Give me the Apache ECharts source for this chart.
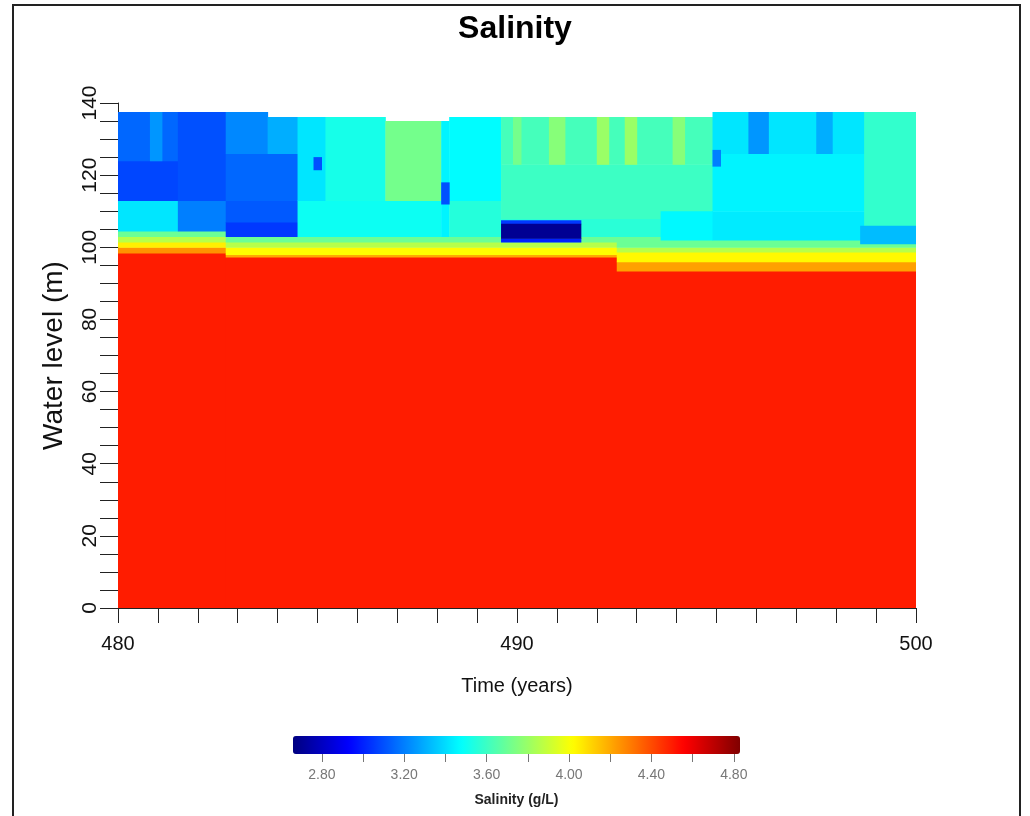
<!DOCTYPE html>
<html>
<head>
<meta charset="utf-8">
<title>Salinity</title>
<script src="https://cdn.jsdelivr.net/npm/echarts@6/dist/echarts.min.js"></script>
<style>
  html, body { margin: 0; padding: 0; background: #fff; }
  #salinity-chart { width: 1030px; height: 816px; }
</style>
</head>
<body>
<div id="salinity-chart"></div>
<script>
// cells: [time from, time to, level from (m), level to (m), salinity (g/L)]
var mixedLayer = [
    [480, 482.7, 0, 98.4, 4.50],
    [482.7, 492.5, 0, 97.3, 4.50],
    [492.5, 500, 0, 93.4, 4.50]
];

var halocline = [
    [480, 482.7, 98.4, 100, 4.25],
    [480, 482.7, 100, 101.5, 4.05],
    [480, 482.7, 101.5, 103, 3.86],
    [480, 482.7, 103, 104.5, 3.70],
    [482.7, 492.5, 97.3, 98, 4.20],
    [482.7, 492.5, 98, 100, 4.02],
    [482.7, 492.5, 100, 101.5, 3.86],
    [482.7, 492.5, 101.5, 103, 3.70],
    [492.5, 500, 93.4, 96, 4.22],
    [492.5, 500, 96, 98.7, 4.03],
    [492.5, 500, 98.7, 100, 3.86],
    [492.5, 500, 100, 103, 3.70]
];

var surfaceLayer = [
    [480, 481.5, 104.5, 113, 3.42],
    [480, 481.5, 113, 124, 3.08],
    [480, 481.5, 124, 137.5, 3.15],
    [481.5, 482.7, 104.5, 113, 3.20],
    [481.5, 482.7, 113, 137.5, 3.10],
    [482.7, 484.5, 103, 107, 3.05],
    [482.7, 484.5, 107, 113, 3.12],
    [482.7, 484.5, 113, 126, 3.15],
    [482.7, 483.75, 126, 137.5, 3.22],
    [483.75, 484.5, 126, 136.1, 3.30],
    [484.5, 488.1, 103, 113, 3.50],
    [484.5, 485.2, 113, 136.1, 3.42],
    [485.2, 486.7, 113, 136.1, 3.52],
    [486.7, 488.1, 113, 135, 3.72],
    [488.1, 488.3, 103, 135, 3.45],
    [488.3, 489.6, 103, 113, 3.55],
    [488.3, 489.6, 113, 136.1, 3.47],
    [489.6, 494.9, 103, 108, 3.56],
    [489.6, 494.9, 108, 123, 3.60],
    [489.6, 494.9, 123, 136.1, 3.62],
    [493.6, 494.9, 102, 110, 3.46],
    [494.9, 500, 102, 110, 3.43],
    [494.9, 500, 110, 126, 3.45],
    [494.9, 500, 126, 137.5, 3.42],
    [498.7, 500, 106, 137.5, 3.58],
    [498.6, 500, 101, 106, 3.33]
];

var patches = [
    [480.8, 481.1, 124, 137.5, 3.25],
    [489.9, 490.1, 123, 136.1, 3.72],
    [490.8, 491.2, 123, 136.1, 3.76],
    [492.0, 492.3, 123, 136.1, 3.80],
    [492.7, 493.0, 123, 136.1, 3.80],
    [493.9, 494.2, 123, 136.1, 3.76],
    [495.8, 496.3, 126, 137.5, 3.25],
    [497.5, 497.9, 126, 137.5, 3.30],
    [484.9, 485.1, 121.5, 125, 3.10],
    [488.1, 488.3, 112, 118, 3.10],
    [494.9, 495.1, 122.5, 127, 3.20],
    [489.6, 491.6, 101.5, 102.5, 3.00],
    [489.6, 491.6, 106.5, 107.5, 3.05],
    [489.6, 491.6, 102.5, 106.5, 2.70]
];

var xTickValues = [480, 481, 482, 483, 484, 485, 486, 487, 488, 489, 490,
                   491, 492, 493, 494, 495, 496, 497, 498, 499, 500];
var xLabelValues = [480, 490, 500];
var yTickValues = [0, 5, 10, 15, 20, 25, 30, 35, 40, 45, 50, 55, 60, 65, 70,
                   75, 80, 85, 90, 95, 100, 105, 110, 115, 120, 125, 130, 135, 140];
var yLabelValues = [0, 20, 40, 60, 80, 100, 120, 140];
var barTickValues = [2.8, 3.0, 3.2, 3.4, 3.6, 3.8, 4.0, 4.2, 4.4, 4.6, 4.8];
var barLabelValues = [2.8, 3.2, 3.6, 4.0, 4.4, 4.8];

var jet = ['#000080', '#0000ff', '#0080ff', '#00ffff', '#80ff80',
           '#ffff00', '#ff8000', '#ff0000', '#800000'];

var cells = mixedLayer.concat(halocline, surfaceLayer, patches);

var chartDom = document.getElementById('salinity-chart');
var chart = echarts.init(chartDom);
var font = '"Liberation Sans", Arial, sans-serif';

function renderCell(params, api) {
    var p0 = api.coord([api.value(0), api.value(3)]);
    var p1 = api.coord([api.value(1), api.value(2)]);
    return {
        type: 'rect',
        shape: {
            x: p0[0],
            y: p0[1],
            width: p1[0] - p0[0] + 0.5,
            height: p1[1] - p0[1] + 0.5
        },
        style: { fill: api.visual('color') }
    };
}

var option = {
    animation: false,
    backgroundColor: '#fff',
    title: {
        text: 'Salinity',
        left: 'center',
        top: 13,
        padding: 0,
        textStyle: { fontFamily: font, fontSize: 32, fontWeight: 'bold', color: '#000' }
    },
    graphic: [{
        type: 'rect',
        shape: { x: 13, y: 5, width: 1007, height: 830 },
        style: { fill: 'none', stroke: '#222', lineWidth: 2 },
        silent: true
    }],
    grid: [
        { left: 118, right: 114, top: 103, bottom: 208 },
        { left: 293, right: 290, top: 753, height: 1 }
    ],
    xAxis: [{
        type: 'value',
        gridIndex: 0,
        min: 480,
        max: 500,
        name: 'Time (years)',
        nameLocation: 'middle',
        nameGap: 68,
        nameTextStyle: { fontFamily: font, fontSize: 20, color: '#111' },
        axisLine: { show: true, lineStyle: { color: '#222', width: 1 } },
        axisTick: { show: true, length: 15, customValues: xTickValues, lineStyle: { color: '#222' } },
        axisLabel: { customValues: xLabelValues, margin: 26, fontFamily: font, fontSize: 20, color: '#111' },
        splitLine: { show: false }
    }, {
        type: 'value',
        gridIndex: 1,
        min: 2.66,
        max: 4.83,
        name: 'Salinity (g/L)',
        nameLocation: 'middle',
        nameGap: 39,
        nameTextStyle: { fontFamily: font, fontSize: 14, fontWeight: 'bold', color: '#222' },
        axisLine: { show: false },
        axisTick: { show: true, length: 8, customValues: barTickValues, lineStyle: { color: '#777' } },
        axisLabel: {
            customValues: barLabelValues,
            margin: 14,
            fontFamily: font,
            fontSize: 14,
            color: '#777',
            formatter: function (v) { return v.toFixed(2); }
        },
        splitLine: { show: false }
    }],
    yAxis: [{
        type: 'value',
        gridIndex: 0,
        min: 0,
        max: 140,
        name: 'Water level (m)',
        nameLocation: 'middle',
        nameGap: 50,
        nameRotate: 90,
        nameTextStyle: { fontFamily: font, fontSize: 28, color: '#111' },
        axisLine: { show: true, lineStyle: { color: '#222', width: 1 } },
        axisTick: { show: true, length: 18, customValues: yTickValues, lineStyle: { color: '#222' } },
        axisLabel: { customValues: yLabelValues, rotate: 90, margin: 17, fontFamily: font, fontSize: 21, color: '#111' },
        splitLine: { show: false }
    }, {
        type: 'value',
        gridIndex: 1,
        show: false
    }],
    visualMap: {
        type: 'continuous',
        seriesIndex: 0,
        dimension: 4,
        min: 2.66,
        max: 4.83,
        orient: 'horizontal',
        left: 293,
        top: 736,
        padding: 0,
        itemWidth: 18,
        itemHeight: 447,
        calculable: false,
        hoverLink: false,
        inRange: { color: jet }
    },
    series: [{
        type: 'custom',
        xAxisIndex: 0,
        yAxisIndex: 0,
        renderItem: renderCell,
        encode: { x: [0, 1], y: [2, 3] },
        clip: true,
        data: cells
    }]
};

chart.setOption(option);
</script>
</body>
</html>
